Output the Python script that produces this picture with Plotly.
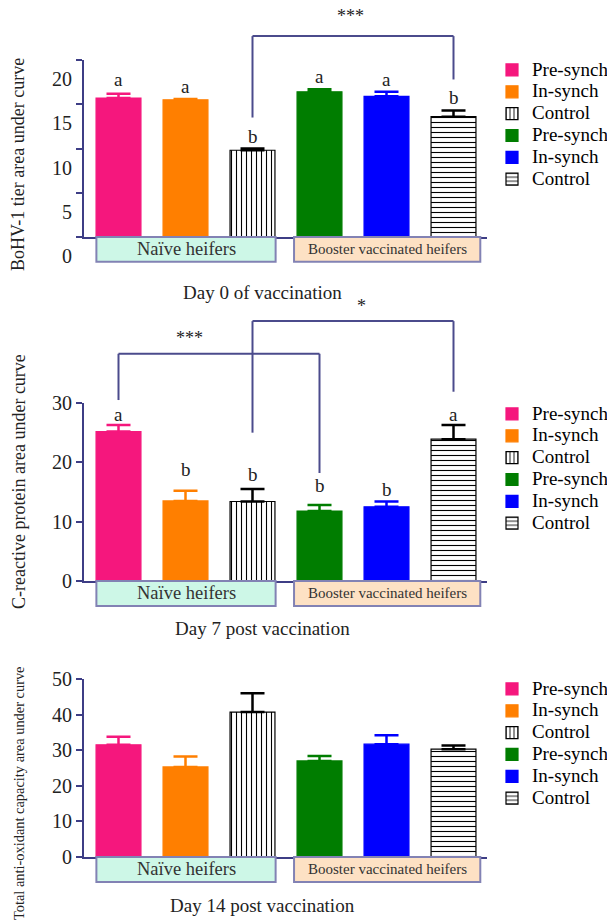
import plotly.graph_objects as go

W, H = 607, 921

# ---------------- data ----------------
treatments = ["Pre-synch", "In-synch", "Control", "Pre-synch", "In-synch", "Control"]
groups = ["Naïve heifers", "Booster vaccinated heifers"]

day0_auc = [15.7, 15.5, 9.8, 16.4, 15.9, 13.6]
day0_sem = [0.5, 0.1, 0.2, 0.3, 0.5, 0.7]
day0_letters = ["a", "a", "b", "a", "a", "b"]

day7_crp = [25.2, 13.5, 13.4, 11.8, 12.5, 23.9]
day7_sem = [1.1, 1.7, 2.1, 1.0, 0.9, 2.4]
day7_letters = ["a", "b", "b", "b", "b", "a"]

day14_tac = [31.5, 25.3, 40.7, 27.0, 31.7, 30.3]
day14_sem = [2.3, 2.9, 5.3, 1.4, 2.5, 1.0]

y_ticks_day0 = [0, 5, 10, 15, 20]
y_ticks_day7 = [0, 10, 20, 30]
y_ticks_day14 = [0, 10, 20, 30, 40, 50]

# ---------------- style ----------------
SERIF = "Liberation Serif"
AXC = "#3d3d85"
BRC = "#4b4b8c"
BOXC = "#8282b4"
colors = ["#f5177d", "#ff7f00", "white", "#007d00", "#0000ff", "white"]
errc = ["#f5177d", "#ff7f00", "black", "#007d00", "#0000ff", "black"]
patterns = ["", "", "|", "", "", "-"]

fig = go.Figure()

panels = [
    dict(vals=day0_auc, sem=day0_sem, letters=day0_letters, ticks=y_ticks_day0,
         ymax=20, yd=(237, 60), legend="legend", legtop=54,
         lshift=[2, 0, 0, 0, 0, 0],
         ytitle="BoHV-1 tier area under curve", ytsize=18, ytpos=(18, 165),
         xtitle="Day 0 of vaccination", xtpos=(262, 293), shift=19),
    dict(vals=day7_crp, sem=day7_sem, letters=day7_letters, ticks=y_ticks_day7,
         ymax=30, yd=(581, 403), legend="legend2", legtop=398,
         lshift=[-2, 9, 2, 7, -1, -2],
         ytitle="C-reactive protein area under curve", ytsize=18, ytpos=(19, 482),
         xtitle="Day 7 post vaccination", xtpos=(262, 628), shift=0),
    dict(vals=day14_tac, sem=day14_sem, letters=None, ticks=y_ticks_day14,
         ymax=50, yd=(857, 679), legend="legend3", legtop=673, lshift=None,
         ytitle="Total anti-oxidant capacity area under curve", ytsize=14.4, ytpos=(19, 793),
         xtitle="Day 14 post vaccination", xtpos=(262, 905), shift=0),
]
XD = (84, 487)
XR = [-0.515, 5.5]

shapes = []
annotations = []
legends = {}

for p_i, p in enumerate(panels):
    sfx = "" if p_i == 0 else str(p_i + 1)
    xa, ya = "x" + sfx, "y" + sfx
    for i, name in enumerate(treatments):
        fig.add_trace(go.Bar(
            x=[i], y=[p["vals"][i]],
            name="<span style='font-size:19px'>" + name + "</span>",
            xaxis=xa, yaxis=ya, width=0.67, legend=p["legend"],
            marker=dict(color=colors[i],
                        line=dict(color="black" if patterns[i] else colors[i], width=1.2),
                        pattern=dict(shape=patterns[i], fgcolor="black", bgcolor="white",
                                     size=5, solidity=0.22, fillmode="replace")),
            error_y=dict(type="data", array=[p["sem"][i]], arrayminus=[0], symmetric=False,
                         color=errc[i], thickness=2.5, width=12),
        ))
        if p["letters"]:
            annotations.append(dict(
                x=i, y=p["vals"][i] + p["sem"][i], xref=xa, yref=ya, text=p["letters"][i],
                showarrow=False, xanchor="center", yanchor="bottom", yshift=p["lshift"][i],
                font=dict(family=SERIF, size=19, color="#222")))
    layout_x = dict(domain=[XD[0] / W, XD[1] / W], range=XR, anchor=ya,
                    showticklabels=False, ticks="", showline=True, linecolor=AXC, linewidth=2,
                    showgrid=False, zeroline=False, fixedrange=True)
    layout_y = dict(domain=[1 - p["yd"][0] / H, 1 - p["yd"][1] / H], range=[0, p["ymax"]],
                    anchor=xa, tickvals=p["ticks"], ticks="outside", ticklen=6, tickwidth=2,
                    tickcolor=AXC, showline=True, linecolor=AXC, linewidth=2, showgrid=False,
                    zeroline=False, fixedrange=True, ticklabelshift=p["shift"],
                    tickfont=dict(family=SERIF, size=20, color="#222"))
    fig.layout["xaxis" + sfx] = layout_x
    fig.layout["yaxis" + sfx] = layout_y

    # group boxes under the axis
    for (x0, x1), gname, fs, fill in zip([(-0.33, 2.345), (2.62, 5.4)], groups, [18.5, 15],
                                         ["#cdf7e7", "#fde1c4"]):
        shapes.append(dict(type="rect", xref=xa, yref=ya + " domain", x0=x0, x1=x1,
                           y0=-0.14, y1=0, line=dict(color=BOXC, width=2),
                           fillcolor=fill, layer="above"))
        annotations.append(dict(x=(x0 + x1) / 2, y=-0.07, xref=xa, yref=ya + " domain",
                                text=gname, showarrow=False, xanchor="center", yanchor="middle",
                                font=dict(family=SERIF, size=fs, color="#333")))
    # titles
    annotations.append(dict(x=p["xtpos"][0] / W, y=1 - p["xtpos"][1] / H, xref="paper",
                            yref="paper", text=p["xtitle"], showarrow=False,
                            xanchor="center", yanchor="middle",
                            font=dict(family=SERIF, size=19, color="#222")))
    annotations.append(dict(x=p["ytpos"][0] / W, y=1 - p["ytpos"][1] / H, xref="paper",
                            yref="paper", text=p["ytitle"], showarrow=False, textangle=-90,
                            xanchor="center", yanchor="middle",
                            font=dict(family=SERIF, size=p["ytsize"], color="#222")))
    legends[p["legend"]] = dict(x=492 / W, y=1 - p["legtop"] / H,
                                font=dict(family=SERIF, size=14.5, color="black"),
                                bgcolor="rgba(0,0,0,0)", xanchor="left", yanchor="top",
                                itemwidth=30, tracegroupgap=0)

# significance brackets: (panel, x_left, foot_left, x_right, foot_right, top, label, label_x, label_y)
brackets = [
    (0, 2, 13.5, 5, 17.8, 22.7, "***", 3.46, 25.0),
    (1, 0, 30.5, 3, 18.2, 38.3, "***", 1.06, 41.0),
    (1, 2, 25.0, 5, 31.9, 43.8, "*", 3.62, 46.4),
]
for pi, xl, fl, xr, fr, top, lab, lx, ly in brackets:
    sfx = "" if pi == 0 else str(pi + 1)
    xa, ya = "x" + sfx, "y" + sfx + " domain"
    ym = panels[pi]["ymax"]
    for (a0, b0, a1, b1) in [(xl, fl, xl, top), (xl, top, xr, top), (xr, top, xr, fr)]:
        shapes.append(dict(type="line", xref=xa, yref=ya, x0=a0, x1=a1, y0=b0 / ym, y1=b1 / ym,
                           line=dict(color=BRC, width=2)))
    annotations.append(dict(x=lx, y=ly / ym, xref=xa, yref=ya, text=lab, showarrow=False,
                            xanchor="center", yanchor="middle",
                            font=dict(family=SERIF, size=18, color="#222")))

fig.update_layout(
    width=W, height=H, margin=dict(l=0, r=0, t=0, b=0, autoexpand=False),
    font=dict(family=SERIF, color="#222"),
    paper_bgcolor="white", plot_bgcolor="white", barmode="overlay",
    shapes=shapes, annotations=annotations, showlegend=True,
    **legends,
)

fig.write_html("out.html", config={"displayModeBar": False},
               post_script="document.body.style.margin='0';document.body.style.padding='0';")
